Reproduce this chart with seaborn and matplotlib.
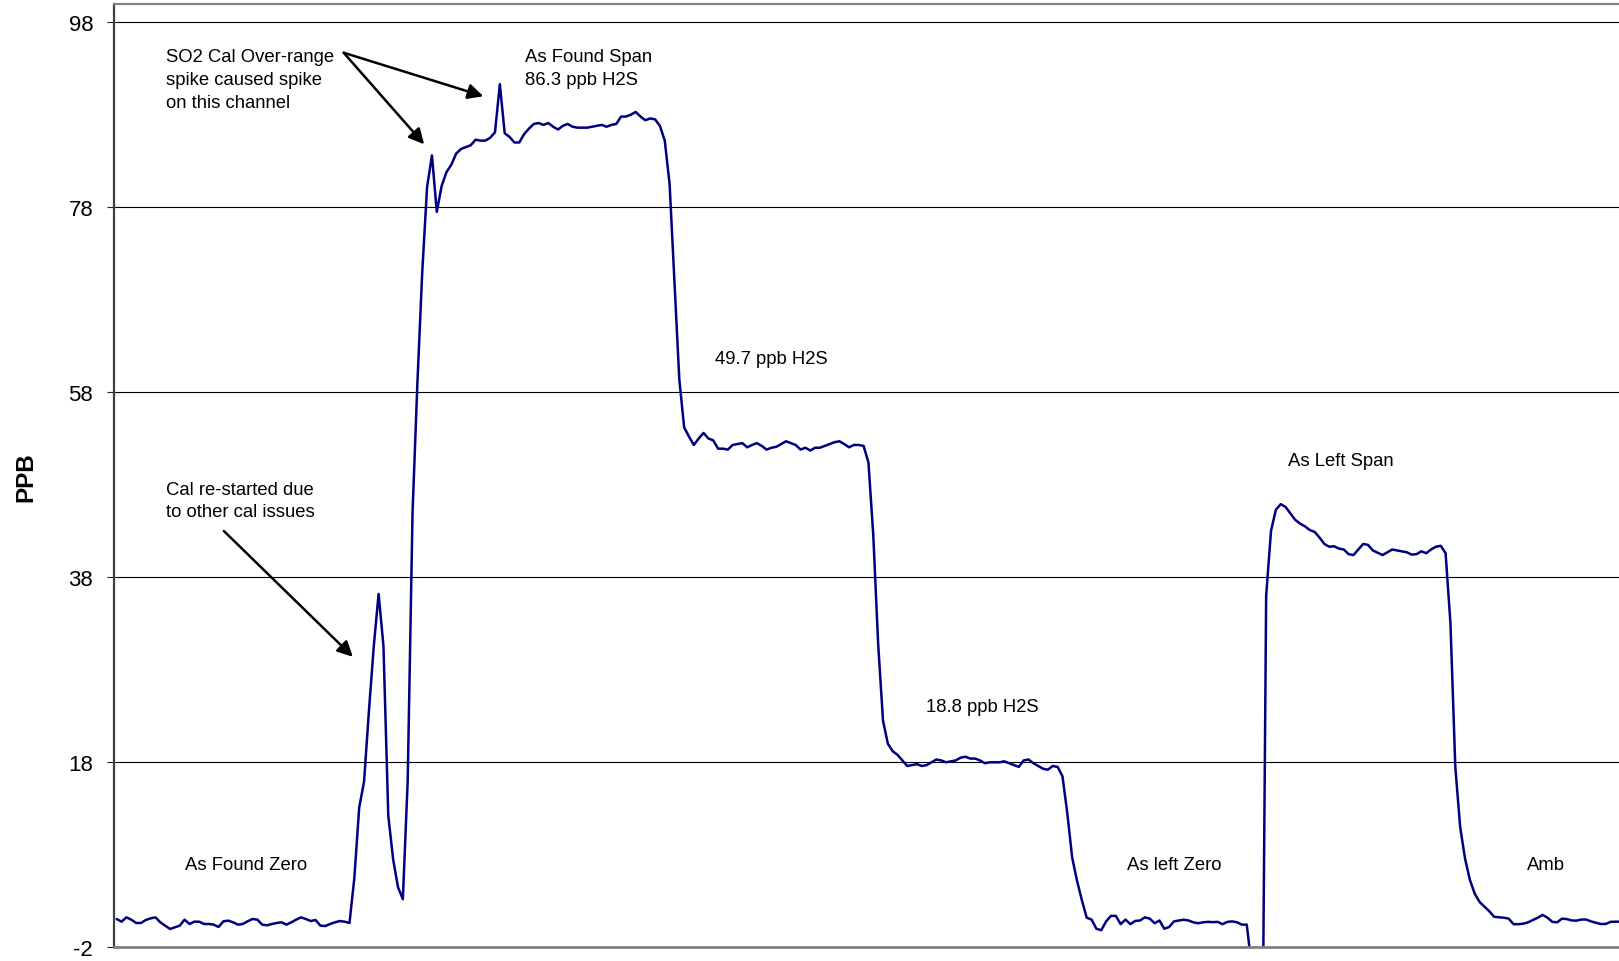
import numpy as np
import pandas as pd
import matplotlib
matplotlib.use('Agg')
import matplotlib.pyplot as plt
import seaborn as sns

# H2S channel readings (ppb), one per sample, split by calibration step
as_found_zero = [1.06, 0.77, 1.24, 0.99, 0.63, 0.63, 0.95, 1.13, 1.24, 0.70,
                 0.34, -0.02, 0.16, 0.34, 0.99, 0.52, 0.77, 0.77, 0.52, 0.52,
                 0.45, 0.20, 0.81, 0.88, 0.70, 0.45, 0.52, 0.81, 1.06, 0.99,
                 0.45, 0.38, 0.52, 0.63, 0.70, 0.45, 0.70, 0.99, 1.24, 1.06,
                 0.84, 0.95, 0.34, 0.30, 0.52, 0.70, 0.84, 0.77, 0.63]
restart_spike = [5.5, 13.1, 15.9, 23.5, 30.5, 36.2, 30.6, 12.2, 7.5, 4.5,
                 3.2, 16.0, 45.0, 59.0, 71.0]
span_rise = [80.2, 83.6, 77.5, 80.3, 81.8, 82.6, 83.8, 84.3, 84.5, 84.7,
             85.3, 85.2, 85.2, 85.5, 86.1, 91.3]
as_found_span = [86.0, 85.6, 85.0, 85.0, 85.9, 86.5, 87.0, 87.1, 86.9, 87.1,
                 86.7, 86.4, 86.8, 87.0, 86.7, 86.6, 86.6, 86.6, 86.7, 86.8,
                 86.9, 86.7, 86.9, 87.0, 87.8, 87.8, 88.0, 88.3, 87.8, 87.4,
                 87.6, 87.5, 86.8, 85.2, 80.5, 70.0, 59.4]
point_497 = [54.2, 53.2, 52.3, 53.0, 53.6, 53.0, 52.8, 51.9, 51.9, 51.8,
             52.3, 52.4, 52.5, 52.05, 52.3, 52.5, 52.2, 51.8, 52.0, 52.1,
             52.4, 52.7, 52.5, 52.3, 51.8, 52.0, 51.7, 52.0, 52.0, 52.2,
             52.4, 52.6, 52.7, 52.4, 52.05, 52.3, 52.3, 52.2, 50.4]
point_188 = [42.5, 30.8, 22.5, 20.0, 19.2, 18.8, 18.2, 17.6, 17.7, 17.8,
             17.6, 17.7, 18.0, 18.3, 18.2, 18.0, 18.1, 18.2, 18.5, 18.6,
             18.4, 18.4, 18.2, 17.9, 18.0, 18.0, 18.0, 18.1, 17.9, 17.7,
             17.5, 18.2, 18.3, 17.9, 17.6, 17.3, 17.2, 17.6, 17.5, 16.5]
as_left_zero = [12.5, 7.7, 5.2, 3.1, 1.2, 1.0, 0.0, -0.15, 0.8, 1.4,
                1.4, 0.5, 1.0, 0.5, 0.85, 0.9, 1.24, 1.1, 0.6, 0.9,
                0.0, 0.2, 0.8, 0.9, 0.98, 0.9, 0.7, 0.6, 0.7, 0.75,
                0.72, 0.75, 0.5, 0.75, 0.8, 0.7, 0.45, 0.45]
dropout = [-4.0, -30.0, -30.0]
as_left_span = [36.0, 43.0, 45.3, 45.9, 45.6, 44.9, 44.2, 43.8, 43.5, 43.1,
                42.9, 42.3, 41.6, 41.3, 41.35, 41.1, 41.0, 40.5, 40.4, 41.0,
                41.6, 41.5, 40.9, 40.65, 40.4, 40.7, 41.0, 40.9, 40.8, 40.7,
                40.45, 40.5, 40.8, 40.6, 41.0, 41.3, 41.4, 40.6, 33.0]
ambient = [17.5, 11.0, 7.6, 5.3, 3.8, 2.9, 2.4, 1.9, 1.3, 1.24,
           1.2, 1.1, 0.5, 0.5, 0.55, 0.7, 0.95, 1.2, 1.5, 1.2,
           0.75, 0.7, 1.1, 1.05, 0.9, 0.88, 1.0, 1.0, 0.8, 0.65,
           0.52, 0.52, 0.75, 0.77, 0.77]

y_ticks = [-2, 18, 38, 58, 78, 98]

ppb = (as_found_zero + restart_spike + span_rise + as_found_span + point_497
       + point_188 + as_left_zero + dropout + as_left_span + ambient)
df = pd.DataFrame({'sample': np.arange(len(ppb)), 'ppb': ppb})

sns.set_theme(style='white')
plt.rcParams['font.family'] = ['Liberation Sans', 'DejaVu Sans']
plt.rcParams['axes.unicode_minus'] = False
plt.rcParams['text.color'] = 'black'

fig = plt.figure(figsize=(16.19, 9.62), dpi=100)
ax = fig.add_axes([0.0704, 0.01424, 0.9296, 0.98087])

sns.lineplot(data=df, x='sample', y='ppb', ax=ax, color='#000080', lw=1.8,
             solid_joinstyle='round')

ax.set_xlim(-0.56, 309.75)
ax.set_ylim(-2, 100)
ax.set_yticks(y_ticks)
ax.yaxis.grid(True, color='black', lw=0.8)
ax.xaxis.grid(False)
ax.set_axisbelow(True)
ax.tick_params(axis='y', left=True, length=5, width=0.8, color='#202020',
               pad=10, labelsize=16, labelcolor='black')
ax.tick_params(axis='x', bottom=False, labelbottom=False)
ax.set_xlabel('')
ax.set_ylabel('')

ax.spines['right'].set_visible(False)
ax.spines['left'].set_color('#404040')
ax.spines['left'].set_linewidth(1.6)
ax.spines['bottom'].set_color('#808080')
ax.spines['bottom'].set_linewidth(2)
ax.spines['top'].set_color('#808080')
ax.spines['top'].set_linewidth(1.6)

fig.text(25.5 / 1619, 1 - 477 / 962, 'PPB', rotation=90, ha='center',
         va='center', fontsize=17.5, fontweight='bold', color='black')

fs = 13.3
notes = [
    (10.2, 91.8, 'SO2 Cal Over-range\nspike caused spike\non this channel'),
    (84.1, 93.05, 'As Found Span\n86.3 ppb H2S'),
    (123.3, 61.6, '49.7 ppb H2S'),
    (241.6, 50.6, 'As Left Span'),
    (166.9, 24.0, '18.8 ppb H2S'),
    (14.0, 7.0, 'As Found Zero'),
    (208.4, 7.0, 'As left Zero'),
    (290.8, 7.0, 'Amb'),
    (10.2, 46.3, 'Cal re-started due\nto other cal issues'),
]
for x, y, s in notes:
    ax.text(x, y, s, ha='left', va='center', fontsize=fs, linespacing=1.44,
            color='black')

arrow = dict(arrowstyle='-|>', color='black', lw=1.8, mutation_scale=23,
             shrinkA=0, shrinkB=0)
ax.annotate('', xy=(75.6, 90.0), xytext=(46.8, 94.7), arrowprops=arrow)
ax.annotate('', xy=(63.4, 84.8), xytext=(46.8, 94.7), arrowprops=arrow)
ax.annotate('', xy=(48.7, 29.4), xytext=(22.1, 43.0), arrowprops=arrow)

fig.savefig('out.png', dpi=100)
